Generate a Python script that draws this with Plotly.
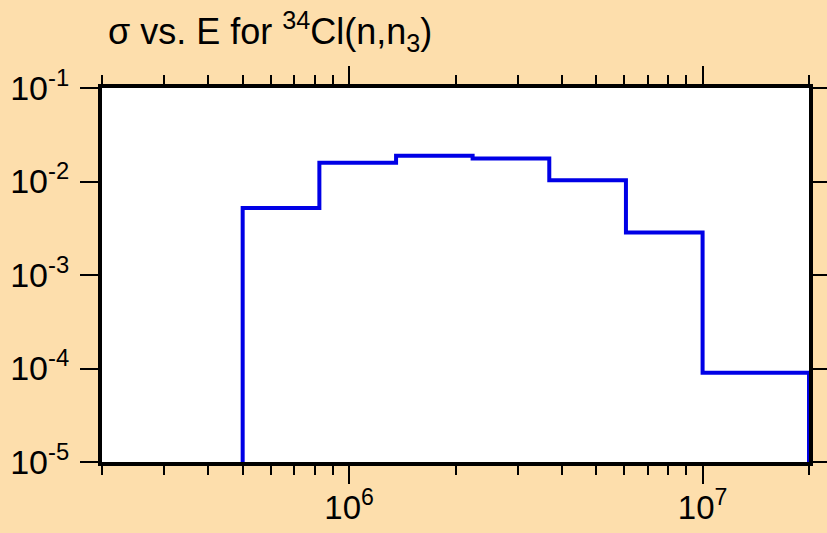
import plotly.graph_objects as go

# Bin edges (eV) and cross sections (b)
edges = [5.0e5, 8.24e5, 1.358e6, 2.236e6, 3.684e6, 6.07e6, 1.0e7, 2.0e7]
sigma = [5.2e-3, 1.59e-2, 1.88e-2, 1.76e-2, 1.03e-2, 2.84e-3, 9.0e-5]
floor = 1.0e-5

x_ticks = [1e6, 1e7]
x_ticktext = ["10<sup>6</sup>", "10<sup>7</sup>"]
x_minor = [2e5, 3e5, 4e5, 5e5, 6e5, 7e5, 8e5, 9e5,
           2e6, 3e6, 4e6, 5e6, 6e6, 7e6, 8e6, 9e6, 2e7]
y_ticks = [1e-5, 1e-4, 1e-3, 1e-2, 1e-1]
y_ticktext = ["10<sup>-5</sup>", "10<sup>-4</sup>", "10<sup>-3</sup>",
              "10<sup>-2</sup>", "10<sup>-1</sup>"]
title_text = "σ vs. E for <sup>34</sup>Cl(n,n<sub>3</sub>)"

xs = [edges[0]] + edges + [edges[-1]]
ys = [floor] + sigma + [sigma[-1], floor]

bg = "#fddeac"
font = "Liberation Sans, Arial, sans-serif"

fig = go.Figure()
fig.add_trace(go.Scatter(x=xs, y=ys, mode="lines", line_shape="hv",
                         line=dict(color="#0000e6", width=4),
                         hoverinfo="skip", showlegend=False))

fig.update_layout(
    template="none",
    width=827, height=533,
    paper_bgcolor=bg, plot_bgcolor="white",
    margin=dict(l=102, r=18, t=88, b=71, autoexpand=False),
    font=dict(family=font, color="black", size=33),
    showlegend=False,
)

fig.add_annotation(text=title_text, xref="paper", yref="paper",
                   x=(106 - 102) / 707, y=1 + (88 - 31) / 374,
                   xanchor="left", yanchor="middle", showarrow=False,
                   font=dict(family=font, size=36, color="black"))

fig.update_xaxes(
    type="log", range=[5.30103, 7.30103], automargin=False,
    tickvals=x_ticks, ticktext=x_ticktext,
    ticks="outside", ticklen=18, tickwidth=2, tickcolor="black",
    minor=dict(tickvals=x_minor, ticks="outside", ticklen=9,
               tickwidth=2, tickcolor="black", showgrid=False),
    showline=True, linewidth=4, linecolor="black", mirror="allticks",
    showgrid=False, zeroline=False,
    tickfont=dict(family=font, size=33, color="black"),
    ticklabelstandoff=-5,
)
fig.update_yaxes(
    type="log", range=[-5, -1], automargin=False,
    tickvals=y_ticks, ticktext=y_ticktext,
    ticks="outside", ticklen=18, tickwidth=2, tickcolor="black",
    showline=True, linewidth=4, linecolor="black", mirror="allticks",
    showgrid=False, zeroline=False,
    tickfont=dict(family=font, size=34, color="black"),
    ticklabelstandoff=4,
)

fig.write_html("out.html", config={"displayModeBar": False},
               post_script="document.body.style.margin='0px';")
